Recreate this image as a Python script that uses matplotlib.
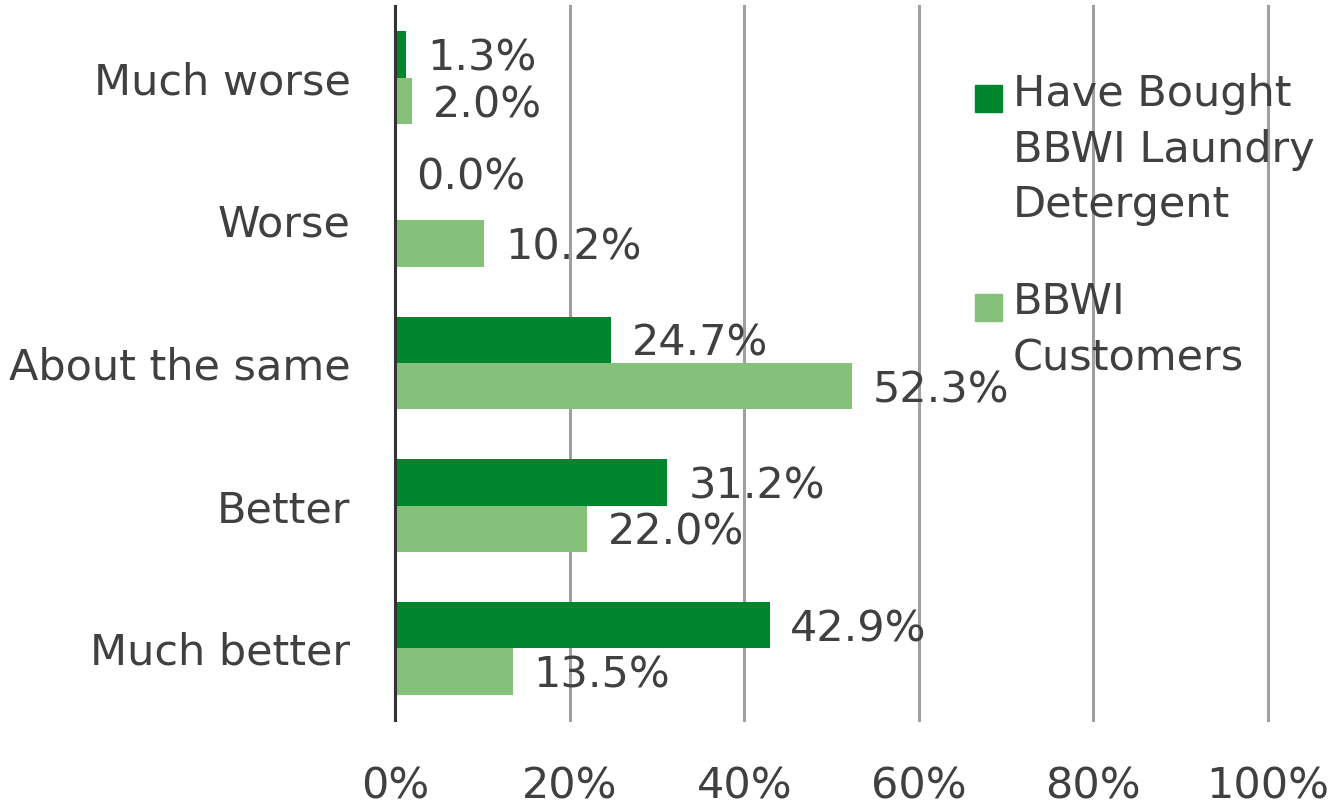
import numpy as np
import matplotlib
matplotlib.use('Agg')
import matplotlib.pyplot as plt
from matplotlib.patches import Rectangle

# data
categories = ['Much worse', 'Worse', 'About the same', 'Better', 'Much better']
bought = [1.3, 0.0, 24.7, 31.2, 42.9]      # Have Bought BBWI Laundry Detergent
customers = [2.0, 10.2, 52.3, 22.0, 13.5]  # BBWI Customers
xticks = [0, 20, 40, 60, 80, 100]

dark = '#00852F'
light = '#85C17B'
txt = '#404040'

plt.rcParams['font.family'] = ['DejaVu Sans']

fig = plt.figure(figsize=(13.42, 8.08), dpi=100)
ax = fig.add_axes([0.2943, 0.1095, 0.6506, 0.8825])

y = np.arange(len(categories))
h = 0.325
ax.barh(y - h / 2, bought, height=h, color=dark, zorder=2)
ax.barh(y + h / 2, customers, height=h, color=light, zorder=2)

for i in range(len(categories)):
    # Excel lifts the label of a zero-length bar a little
    dy = 14 if bought[i] == 0 else -3
    ax.annotate('%.1f%%' % bought[i], (bought[i], y[i] - h / 2), xytext=(15, dy),
                textcoords='offset points', va='center', ha='left', fontsize=31, color=txt)
    ax.annotate('%.1f%%' % customers[i], (customers[i], y[i] + h / 2), xytext=(15, -3),
                textcoords='offset points', va='center', ha='left', fontsize=31, color=txt)

ax.set_ylim(len(categories) - 0.5, -0.5)
ax.set_xlim(0, 100)
ax.set_yticks(y)
ax.set_yticklabels(categories)
ax.set_xticks(xticks)
ax.set_xticklabels(['%d%%' % t for t in xticks])
ax.tick_params(axis='y', length=0, pad=32, labelsize=31, labelcolor=txt)
ax.tick_params(axis='x', length=0, pad=33, labelsize=31, labelcolor=txt)

ax.grid(axis='x', color='#A0A0A0', linewidth=2.2, zorder=0)
ax.set_axisbelow(True)
for gl in ax.get_xgridlines():
    gl.set_clip_on(False)
for s in ['top', 'right', 'bottom']:
    ax.spines[s].set_visible(False)
ax.spines['left'].set_color('#333333')
ax.spines['left'].set_linewidth(2.2)
ax.spines['left'].set_zorder(3)

# legend drawn by hand so the markers line up with the first line of text
leg = [(dark, 'Have Bought\nBBWI Laundry\nDetergent', 0.878),
       (light, 'BBWI\nCustomers', 0.620)]
for col, lab, ty in leg:
    fig.add_artist(Rectangle((975 / 1342, ty - 0.017), 27 / 1342, 27 / 808,
                             transform=fig.transFigure, color=col))
    fig.text(1013 / 1342, ty + 0.032, lab, fontsize=31, color=txt, va='top', ha='left',
             linespacing=1.42)

fig.savefig('out.png', dpi=100)
